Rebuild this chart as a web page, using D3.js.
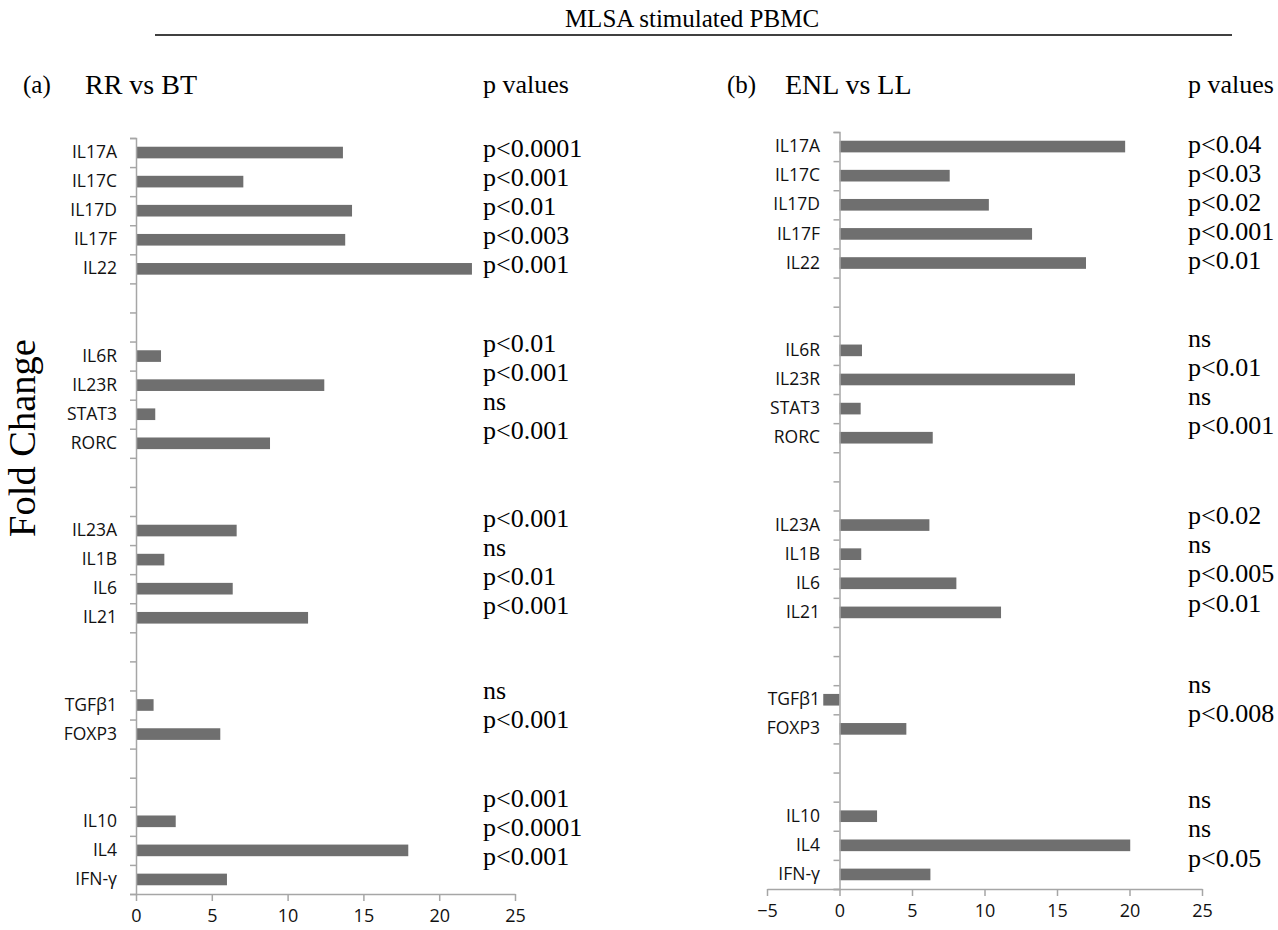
<!DOCTYPE html>
<html>
<head>
<meta charset="utf-8">
<script src="https://cdn.jsdelivr.net/npm/d3@7"></script>
<style>
  body { margin: 0; background: #fff; }
  svg { display: block; }
</style>
</head>
<body>
<svg id="chart" width="1278" height="930"></svg>
<script>
// genes, top to bottom; "" marks an empty slot between groups
var categories = ["IL17A", "IL17C", "IL17D", "IL17F", "IL22", "", "",
  "IL6R", "IL23R", "STAT3", "RORC", "", "",
  "IL23A", "IL1B", "IL6", "IL21", "", "",
  "TGFβ1", "FOXP3", "", "",
  "IL10", "IL4", "IFN-γ"]

// fold change, (a) RR vs BT
var rrVsBt = [13.65, 7.08, 14.25, 13.8, 22.16, null, null,
  1.65, 12.42, 1.27, 8.84, null, null,
  6.64, 1.87, 6.38, 11.35, null, null,
  1.16, 5.56, null, null,
  2.62, 17.96, 6.0]

// fold change, (b) ENL vs LL
var enlVsLl = [19.7, 7.6, 10.3, 13.28, 17.0, null, null,
  1.55, 16.24, 1.46, 6.43, null, null,
  6.2, 1.5, 8.06, 11.14, null, null,
  -1.12, 4.61, null, null,
  2.59, 20.05, 6.27]

var pRrVsBt = ["p<0.0001", "p<0.001", "p<0.01", "p<0.003", "p<0.001", "", "",
  "p<0.01", "p<0.001", "ns", "p<0.001", "", "",
  "p<0.001", "ns", "p<0.01", "p<0.001", "", "",
  "ns", "p<0.001", "", "",
  "p<0.001", "p<0.0001", "p<0.001"]

var pEnlVsLl = ["p<0.04", "p<0.03", "p<0.02", "p<0.001", "p<0.01", "", "",
  "ns", "p<0.01", "ns", "p<0.001", "", "",
  "p<0.02", "ns", "p<0.005", "p<0.01", "", "",
  "ns", "p<0.008", "", "",
  "ns", "ns", "p<0.05"]

var ticksA = [0, 5, 10, 15, 20, 25]
var ticksB = [-5, 0, 5, 10, 15, 20, 25]

var serif = "'Liberation Serif', 'Times New Roman', serif"
var sans = "'Open Sans', sans-serif"

var svg = d3.select("#chart")

// header
svg.append("text")
  .attr("x", 692)
  .attr("y", 27)
  .attr("text-anchor", "middle")
  .attr("font-family", serif)
  .attr("font-size", "25px")
  .text("MLSA stimulated PBMC")

svg.append("line")
  .attr("x1", 155).attr("x2", 1232)
  .attr("y1", 35).attr("y2", 35)
  .attr("stroke", "#000")
  .attr("stroke-width", 1.5)

svg.append("text")
  .attr("transform", "translate(35,438) rotate(-90)")
  .attr("text-anchor", "middle")
  .attr("font-family", serif)
  .attr("font-size", "38.5px")
  .text("Fold Change")

var drawPanel = function(o) {
  var n = categories.length

  var x = d3.scaleLinear()
      .domain(o.domain)
      .range([o.x0, o.x1])

  var y = d3.scaleBand()
      .domain(d3.range(n))
      .range([o.top, o.bottom])
      .paddingInner(0.6)
      .paddingOuter(0.3)

  // category boundaries, for the tick marks
  var yEdge = d3.scaleLinear()
      .domain([0, n])
      .range([o.top, o.bottom])

  var g = svg.append("g")

  // panel letter, comparison, p values heading
  g.append("text")
    .attr("x", o.letterX).attr("y", 93)
    .attr("font-family", serif).attr("font-size", "25px")
    .text(o.letter)
  g.append("text")
    .attr("x", o.nameX).attr("y", 94)
    .attr("font-family", serif).attr("font-size", "28px")
    .text(o.name)
  g.append("text")
    .attr("x", o.pX).attr("y", 93)
    .attr("font-family", serif).attr("font-size", "26px")
    .text("p values")

  g.selectAll(".bar")
    .data(o.values.map(function(v, i) { return {v: v, i: i} })
      .filter(function(d) { return d.v !== null }))
    .enter().append("rect")
      .attr("class", "bar")
      .attr("x", function(d) { return x(Math.min(0, d.v)) })
      .attr("y", function(d) { return y(d.i) })
      .attr("width", function(d) { return Math.abs(x(d.v) - x(0)) })
      .attr("height", y.bandwidth())
      .attr("fill", "#6f6f6f")

  // y axis: boundary ticks
  var yAxis = g.append("g")
    .attr("transform", "translate(" + x(0) + ",0)")
    .call(d3.axisLeft(yEdge).tickValues(d3.range(n + 1)).tickSize(6).tickFormat(""))
  yAxis.select(".domain").attr("stroke", "#a6a6a6").attr("stroke-width", 1.5)
  yAxis.selectAll(".tick line").attr("stroke", "#a6a6a6").attr("stroke-width", 1.5)

  // y axis: gene labels
  var yLab = g.append("g")
    .attr("transform", "translate(" + o.labelX + ",0)")
    .call(d3.axisLeft(y).tickSize(0).tickPadding(0)
      .tickFormat(function(i) { return categories[i] }))
  yLab.select(".domain").remove()
  yLab.selectAll("text")
    .attr("font-family", sans).attr("font-size", "17.5px").attr("fill", "#111")

  // x axis
  var xAxis = g.append("g")
    .attr("transform", "translate(0," + o.bottom + ")")
    .call(d3.axisBottom(x).tickValues(o.ticks).tickSize(7).tickSizeOuter(0).tickPadding(8))
  xAxis.select(".domain").attr("stroke", "#a6a6a6").attr("stroke-width", 1.5)
  xAxis.selectAll(".tick line").attr("stroke", "#a6a6a6").attr("stroke-width", 1.5)
  xAxis.selectAll("text")
    .attr("font-family", sans).attr("font-size", "18px").attr("fill", "#111")

  // p values, nudged per group as in the figure
  g.selectAll(".pval")
    .data(o.pvals.map(function(p, i) { return {p: p, i: i} })
      .filter(function(d) { return d.p !== "" }))
    .enter().append("text")
      .attr("class", "pval")
      .attr("x", o.pX)
      .attr("y", function(d) {
        return y(d.i) + y.bandwidth() / 2 + o.pShift[groupOf(d.i)]
      })
      .attr("dy", "0.35em")
      .attr("font-family", serif)
      .attr("font-size", "26px")
      .text(function(d) { return d.p })
}

// which group of genes a slot belongs to
var groupOf = function(i) {
  var gi = 0
  for (var k = 1; k <= i; k++) {
    if (categories[k] !== "" && categories[k - 1] === "") gi++
  }
  return gi
}

drawPanel({
  letter: "(a)", letterX: 23, name: "RR vs BT", nameX: 85, pX: 483,
  values: rrVsBt, pvals: pRrVsBt, domain: [0, 25], ticks: ticksA,
  x0: 136, x1: 515, top: 138, bottom: 894, labelX: 117,
  pShift: [-5, -13.5, -12.5, -15.5, -23.5]
})

drawPanel({
  letter: "(b)", letterX: 727, name: "ENL vs LL", nameX: 785, pX: 1188,
  values: enlVsLl, pvals: pEnlVsLl, domain: [-5, 25], ticks: ticksB,
  x0: 767, x1: 1202, top: 132, bottom: 889, labelX: 820,
  pShift: [-3, -12.5, -10, -15.5, -17]
})
</script>
</body>
</html>
